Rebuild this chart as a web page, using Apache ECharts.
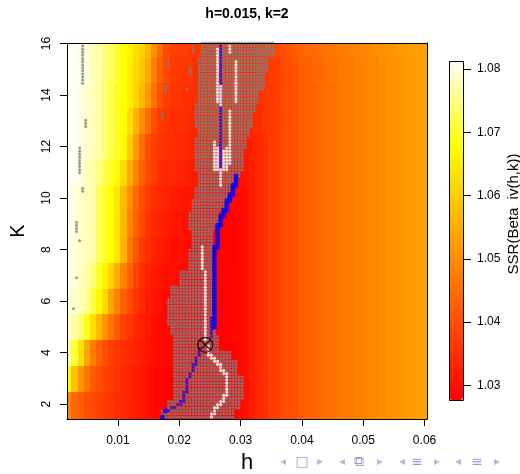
<!DOCTYPE html>
<html><head><meta charset="utf-8">
<script src="https://cdn.jsdelivr.net/npm/echarts@6/dist/echarts.min.js"></script>
<style>html,body{margin:0;padding:0;background:#fff}#c{width:520px;height:474px}</style>
</head><body><div id="c"></div>
<script>
// ---- heat map columns (h) and rows (K) ----
const hCols = [0.002,0.003,0.004,0.005,0.006,0.007,0.008,0.009,0.010,
  0.011,0.012,0.013,0.014,0.015,0.016,0.017,0.018,0.019,0.020,
  0.021,0.022,0.023,0.024,0.025,0.026,0.027,0.028,0.029,0.030,
  0.031,0.032,0.033,0.034,0.035,0.036,0.037,0.038,0.039,0.040,
  0.041,0.042,0.043,0.044,0.045,0.046,0.047,0.048,0.049,0.050,
  0.051,0.052,0.053,0.054,0.055,0.056,0.057,0.058,0.059,0.060];
const kRows = [2,3,4,5,6,7,8,9,10,11,12,13,14,15,16];
// SSR values in thousandths above 1 (e.g. 35 -> 1.035), one array per K row
const ssrK02=[48,44,42,40,39,38,37,36,35,34,33,32,31, 30,29,29,28,28,28, 28,28,28,28,28,28,28,28,28,29, 30,32,34,35,37,38,39,40,41,42,43,43,44,45,45,46,47,47,48,48,49,49,50,50,51,51,52,52,53,53];
const ssrK03=[68,58,51,46,42,40,38,37,36,34,33,32,31, 30,29,29,28,28,28, 28,28,28,28,28,28,28,28,28,29, 30,32,34,35,37,38,39,40,41,42,43,43,44,45,45,46,47,47,48,48,49,49,50,50,51,51,52,52,53,53];
const ssrK04=[77,71,63,54,47,43,40,38,36,35,34,33,32, 31,30,29,29,29,29, 29,28,28,28,28,28,28,28,28,29, 30,32,34,35,37,38,39,40,41,42,43,43,44,45,45,46,47,47,48,48,49,49,50,50,51,51,52,52,53,53];
const ssrK05=[79,77,74,69,63,57,51,46,42,38,36,34,33, 31,30,29,29,29,29, 29,29,29,28,28,28,28,28,29,29, 30,32,34,35,37,38,39,40,41,42,43,43,44,45,45,46,47,47,48,48,49,49,50,50,51,51,52,52,53,53];
const ssrK06=[80,79,78,76,71,67,62,54,48,43,39,36,34, 32,31,30,29,29,29, 29,29,29,29,29,28,28,28,29,29, 30,32,34,35,37,38,39,40,41,42,43,43,44,45,45,46,47,47,48,48,49,49,50,50,51,51,52,52,53,53];
const ssrK07=[81,80,78,77,74,70,66,61,55,48,43,38,35, 33,32,31,30,30,29, 29,29,29,29,29,28,28,28,29,29, 30,32,34,35,37,38,39,40,41,42,43,43,44,45,45,46,47,47,48,48,49,49,50,50,51,51,52,52,53,53];
const ssrK08=[81,80,79,78,77,73,70,68,64,56,47,41,37, 35,33,32,31,30,30, 30,29,29,29,29,28,28,28,28,29, 30,32,34,35,37,38,39,40,41,42,43,43,44,45,45,46,47,47,48,48,49,49,50,50,51,51,52,52,53,53];
const ssrK09=[82,80,79,78,77,73,70,68,64,57,49,43,39, 36,34,33,32,31,31, 30,30,30,30,29,29,28,28,28,29, 30,32,34,35,37,38,39,40,41,42,43,43,44,45,45,46,47,47,48,48,49,49,50,50,51,51,52,52,53,53];
const ssrK10=[82,80,79,78,77,73,70,68,64,57,50,44,40, 37,35,34,33,32,32, 31,31,31,30,30,30,29,29,29,29, 30,32,34,35,37,38,39,40,41,42,43,43,44,45,45,46,47,47,48,48,49,49,50,50,51,51,52,52,53,53];
const ssrK11=[82,81,80,78,77,75,72,70,67,62,55,48,43, 39,37,35,34,34,33, 33,32,32,32,31,31,31,31,30,30, 31,32,34,35,37,38,39,40,41,42,43,43,44,45,45,46,47,47,48,48,49,49,50,50,51,51,52,52,53,53];
const ssrK12=[82,81,80,79,78,77,74,72,70,67,60,52,45, 40,37,36,35,35,34, 34,33,33,33,33,33,33,33,33,33, 32,33,34,35,37,38,39,40,41,42,43,43,44,45,45,46,47,47,48,48,49,49,50,50,51,51,52,52,53,53];
const ssrK13=[82,82,80,79,78,77,74,72,70,68,63,56,50, 45,40,37,36,35,35, 35,34,34,34,34,34,34,34,34,34, 33,34,35,36,37,38,39,40,41,42,43,43,44,45,45,46,47,47,48,48,49,49,50,50,51,51,52,52,53,53];
const ssrK14=[82,82,80,79,78,77,74,72,70,68,65,61,57, 52,46,40,37,36,36, 35,35,35,35,35,35,35,35,35,35, 34,35,35,36,37,38,39,40,41,42,43,43,44,45,45,46,47,47,48,48,49,49,50,50,51,51,52,52,53,53];
const ssrK15=[82,82,81,80,78,77,75,73,71,68,65,62,59, 55,48,42,39,37,36, 36,36,35,35,35,35,35,35,35,35, 35,35,36,36,37,38,39,40,41,42,43,44,44,45,46,46,47,47,48,48,49,49,50,50,51,51,52,52,53,53];
const ssrK16=[82,82,81,79,78,77,75,73,71,68,66,63,61, 57,50,45,40,38,37, 37,36,36,36,35,35,35,35,35,35, 35,35,36,37,38,39,40,41,42,43,44,44,45,46,46,47,47,48,48,49,49,50,50,51,51,52,52,53,53,53];
const ssrRows = [ssrK02,ssrK03,ssrK04,ssrK05,ssrK06,ssrK07,ssrK08,ssrK09,ssrK10,ssrK11,ssrK12,ssrK13,ssrK14,ssrK15,ssrK16];

// ---- ticks ----
const hTicks = [0.01,0.02,0.03,0.04,0.05,0.06];
const kTicks = [2,4,6,8,10,12,14,16];
const ssrTicks = [1.03,1.04,1.05,1.06,1.07,1.08];

// ---- grey region: [K low, K high, h min, h max] ----
const greyBands = [
 [15.5,16.05,0.0238,0.0355],[14.85,15.5,0.0233,0.0344],[14.2,14.85,0.0233,0.0339],
 [13.7,14.2,0.0233,0.0328],[13.3,13.7,0.0228,0.0326],[12.75,13.3,0.0228,0.0320],
 [12.36,12.75,0.0233,0.0315],[11.86,12.36,0.0228,0.0310],[11.08,11.86,0.0228,0.0303],
 [10.8,11.08,0.0233,0.0298],[10.4,10.8,0.0233,0.0287],[10.0,10.4,0.0228,0.0282],
 [9.5,10.0,0.0222,0.0277],[8.75,9.5,0.0217,0.0266],[8.0,8.75,0.0222,0.0254],
 [7.2,8.0,0.0217,0.0254],[6.66,7.2,0.0201,0.0254],[6.15,6.66,0.0188,0.0261],
 [4.99,6.15,0.0181,0.0261],[4.7,4.99,0.0186,0.0261],[4.1,4.7,0.0189,0.0266],
 [3.7,4.1,0.0189,0.0282],[3.15,3.7,0.0189,0.0293],[2.2,3.15,0.0189,0.0303],
 [1.8,2.2,0.0179,0.0298],[1.4,1.8,0.0173,0.0287]];
// isolated grey runs: [h, K low, K high]
const greyRuns = [
 [0.00425,14.45,16.0],[0.00475,12.7,13.1],[0.00375,10.97,11.94],[0.00425,10.23,10.42],
 [0.00325,8.65,9.15],[0.00375,8.3,8.45],[0.00325,6.85,7.0],[0.00275,5.65,5.8],
 [0.01825,15.15,15.3],[0.02175,14.77,15.08],[0.01775,14.07,14.38],[0.02125,14.15,14.3],
 [0.01725,13.12,13.27],[0.02225,15.6,16.0]];
// blue runs (small dots)
const blueSmallRuns = [
 [0.02675,11.0,16.0],[0.02525,4.55,5.35],
 [0.02325,3.85,4.15],[0.02275,3.55,3.85],[0.02225,3.25,3.55],[0.02175,2.95,3.25],
 [0.02125,2.4,3.0],[0.02075,2.05,2.45],[0.02025,1.95,2.1],[0.01975,1.9,2.0],
 [0.01925,1.85,1.95],[0.01875,1.8,1.9],[0.01825,1.7,1.8]];
// blue runs (large dots)
const blueBigRuns = [
 [0.02925,10.4,10.85],[0.02875,10.1,10.5],[0.02825,9.8,10.2],[0.02775,9.5,9.9],
 [0.02725,9.2,9.6],[0.02675,8.9,9.3],[0.02625,8.0,9.0],[0.02575,4.9,8.1],
 [0.01775,1.65,1.75],[0.01725,1.5,1.6]];
// white runs
const whiteRuns = [
 [0.02625,13.7,15.85],[0.02825,15.6,16.0],[0.02925,13.7,15.3],[0.02675,13.6,14.4],
 [0.02825,11.3,13.4],[0.02575,11.1,12.2],[0.02625,11.1,12.0],[0.02725,11.1,11.9],
 [0.02775,11.1,12.0],[0.02675,10.5,11.1],
 [0.02375,7.2,8.2],[0.02425,4.5,7.2],
 [0.02475,3.9,4.3],[0.02525,3.75,4.0],[0.02575,3.6,3.85],[0.02625,3.45,3.7],
 [0.02675,3.3,3.55],[0.02725,3.15,3.4],[0.02775,2.3,3.25],[0.02725,2.1,2.4],
 [0.02675,1.95,2.2],[0.02625,1.8,2.0],[0.02575,1.6,1.85],[0.02525,1.43,1.65]];
// estimate marker (h, K)
const bestPoint = [[0.02425, 4.30]];
// beamer navigation glyphs and their x positions
const navGlyphs = ['◂','□','▸','◂','⧉','▸','◂','≡','▸','◂','≡','▸'];
const navX = [283,302,320,342,359,380,402,417,437,458,477,497];

// ---- layout ----
const X_MIN = 0.0017, X_MAX = 0.0604, Y_MIN = 1.42, Y_MAX = 16.02;
const SSR_MIN = 1.0277, SSR_MAX = 1.0812;
const DOT_H0 = 0.00025, DOT_HSTEP = 0.0005, DOT_K0 = 1.5, DOT_KSTEP = 0.12;
const FONT = 'Liberation Sans, Arial, sans-serif';

const heatData = [];
ssrRows.forEach((row, ri) => {
  const k = kRows[ri];
  const klo = ri === 0 ? Y_MIN : (kRows[ri - 1] + k) / 2;
  const khi = ri === kRows.length - 1 ? Y_MAX : (kRows[ri + 1] + k) / 2;
  row.forEach((v, ci) => heatData.push([hCols[ci], k, 1 + v / 1000, klo, khi]));
});
const dotKs = []; for (let k = DOT_K0; k <= Y_MAX + 1e-9; k += DOT_KSTEP) dotKs.push(+k.toFixed(4));
const dotHs = []; for (let h = DOT_H0; h <= X_MAX; h += DOT_HSTEP) dotHs.push(+h.toFixed(6));
function expandBands(bands) {
  const pts = [];
  bands.forEach(([k0, k1, h0, h1]) => {
    dotKs.forEach(k => { if (k >= k0 && k < k1) dotHs.forEach(h => { if (h >= h0 - 0.0001 && h <= h1 + 0.0001) pts.push([h, k]); }); });
  });
  return pts;
}
function expandRuns(runs) {
  const pts = [];
  runs.forEach(([h, k0, k1]) => {
    let any = false;
    dotKs.forEach(k => { if (k >= k0 - 0.01 && k <= k1 + 0.01) { pts.push([h, k]); any = true; } });
    if (!any) pts.push([h, (k0 + k1) / 2]);
  });
  return pts;
}

const chart = echarts.init(document.getElementById('c'), null, {renderer: 'canvas', width: 520, height: 474});
const axisTxt = {color: '#000', fontSize: 12, fontFamily: FONT};
const lineBlack = {lineStyle: {color: '#000', width: 1}};
const frameAxis = (gi, pos, min, max) => ({gridIndex: gi, type: 'value', min, max, position: pos, z: 10,
  axisLine: {show: true, onZero: false, ...lineBlack}, axisTick: {show: false}, axisLabel: {show: false}, splitLine: {show: false}});
const navGraphics = navGlyphs.map((g, i) => ({type: 'text', x: navX[i], y: 462,
  style: {text: g, font: (g === '◂' || g === '▸' ? '12px' : '14px') + ' DejaVu Sans', fill: (g === '◂' || g === '▸') ? '#b8b8dc' : '#9c9ccf', textAlign: 'center', textVerticalAlign: 'middle'}}));

chart.setOption({
  animation: false,
  backgroundColor: '#fff',
  grid: [
    {left: 67, top: 43, width: 360, height: 376},
    {left: 449.5, top: 61.5, width: 13.5, height: 338.5}
  ],
  xAxis: [
    {gridIndex: 0, type: 'value', min: X_MIN, max: X_MAX, position: 'bottom', z: 10,
     axisLine: {show: true, onZero: false, ...lineBlack},
     axisTick: {show: true, length: 7, customValues: hTicks, ...lineBlack},
     axisLabel: {customValues: hTicks, margin: 16, ...axisTxt, formatter: v => v.toFixed(2)},
     splitLine: {show: false}},
    frameAxis(0, 'top', X_MIN, X_MAX),
    frameAxis(1, 'bottom', 0, 1),
    frameAxis(1, 'top', 0, 1)
  ],
  yAxis: [
    {gridIndex: 0, type: 'value', min: Y_MIN, max: Y_MAX, position: 'left', z: 10,
     axisLine: {show: true, onZero: false, ...lineBlack},
     axisTick: {show: true, length: 7, customValues: kTicks, ...lineBlack},
     axisLabel: {customValues: kTicks, rotate: 90, margin: 14, ...axisTxt},
     splitLine: {show: false}},
    frameAxis(0, 'right', Y_MIN, Y_MAX),
    {gridIndex: 1, type: 'value', min: SSR_MIN, max: SSR_MAX, position: 'right', z: 10,
     axisLine: {show: true, onZero: false, ...lineBlack},
     axisTick: {show: true, length: 8, customValues: ssrTicks, ...lineBlack},
     axisLabel: {customValues: ssrTicks, margin: 14, ...axisTxt, formatter: v => v.toFixed(2)},
     splitLine: {show: false}},
    frameAxis(1, 'left', SSR_MIN, SSR_MAX)
  ],
  visualMap: {
    type: 'continuous', min: SSR_MIN, max: SSR_MAX, seriesIndex: 0, dimension: 2,
    inRange: {color: ['#ff0000', '#ff5500', '#ffaa00', '#ffff00', '#fffff4']},
    show: true, calculable: false, orient: 'vertical', left: 449.5, top: 61.5, padding: 0,
    itemWidth: 13.5, itemHeight: 338.5, text: null, hoverLink: false
  },
  series: [
    {type: 'custom', xAxisIndex: 0, yAxisIndex: 0, data: heatData, silent: true,
     encode: {x: 0, y: 1},
     renderItem: (params, api) => {
       const h = api.value(0);
       const p1 = api.coord([h - 0.0005, api.value(4)]);
       const p2 = api.coord([h + 0.0005, api.value(3)]);
       const cs = params.coordSys;
       const r = echarts.graphic.clipRectByRect(
         {x: Math.floor(p1[0]), y: Math.floor(p1[1]), width: Math.ceil(p2[0]) - Math.floor(p1[0]), height: Math.ceil(p2[1]) - Math.floor(p1[1])},
         {x: cs.x, y: cs.y, width: cs.width, height: cs.height});
       return r && {type: 'rect', shape: r, style: {fill: api.visual('color')}};
     }},
    {type: 'scatter', xAxisIndex: 0, yAxisIndex: 0, silent: true, symbolSize: 3,
     itemStyle: {color: '#808080'}, data: expandBands(greyBands).concat(expandRuns(greyRuns))},
    {type: 'scatter', xAxisIndex: 0, yAxisIndex: 0, silent: true, symbolSize: 2.8,
     itemStyle: {color: '#0000ff'}, data: expandRuns(blueSmallRuns)},
    {type: 'scatter', xAxisIndex: 0, yAxisIndex: 0, silent: true, symbolSize: 5,
     itemStyle: {color: '#0000ff'}, data: expandRuns(blueBigRuns)},
    {type: 'scatter', xAxisIndex: 0, yAxisIndex: 0, silent: true, symbolSize: 3.2,
     itemStyle: {color: '#ffffff'}, data: expandRuns(whiteRuns)},
    {type: 'scatter', xAxisIndex: 0, yAxisIndex: 0, silent: true, symbolSize: 15,
     symbol: 'path://M0,-10A10,10,0,1,1,0,10A10,10,0,1,1,0,-10ZM-7.07,-7.07L7.07,7.07M-7.07,7.07L7.07,-7.07',
     itemStyle: {color: 'rgba(0,0,0,0)', borderColor: '#000', borderWidth: 1.3}, data: bestPoint, z: 5}
  ],
  graphic: [
    {type: 'text', x: 247, y: 14, style: {text: 'h=0.015, k=2', font: 'bold 14px ' + FONT, fill: '#000', textAlign: 'center', textVerticalAlign: 'middle'}},
    {type: 'text', x: 18, y: 231, rotation: Math.PI / 2, style: {text: 'K', font: '20px ' + FONT, fill: '#000', textAlign: 'center', textVerticalAlign: 'middle'}},
    {type: 'text', x: 247, y: 463, style: {text: 'h', font: '22px ' + FONT, fill: '#000', textAlign: 'center', textVerticalAlign: 'middle'}},
    {type: 'text', x: 514, y: 214, rotation: Math.PI / 2, style: {text: 'SSR(Beta_iv(h,k))', font: '15px ' + FONT, fill: '#000', textAlign: 'center', textVerticalAlign: 'middle'}}
  ].concat(navGraphics)
});
</script></body></html>
